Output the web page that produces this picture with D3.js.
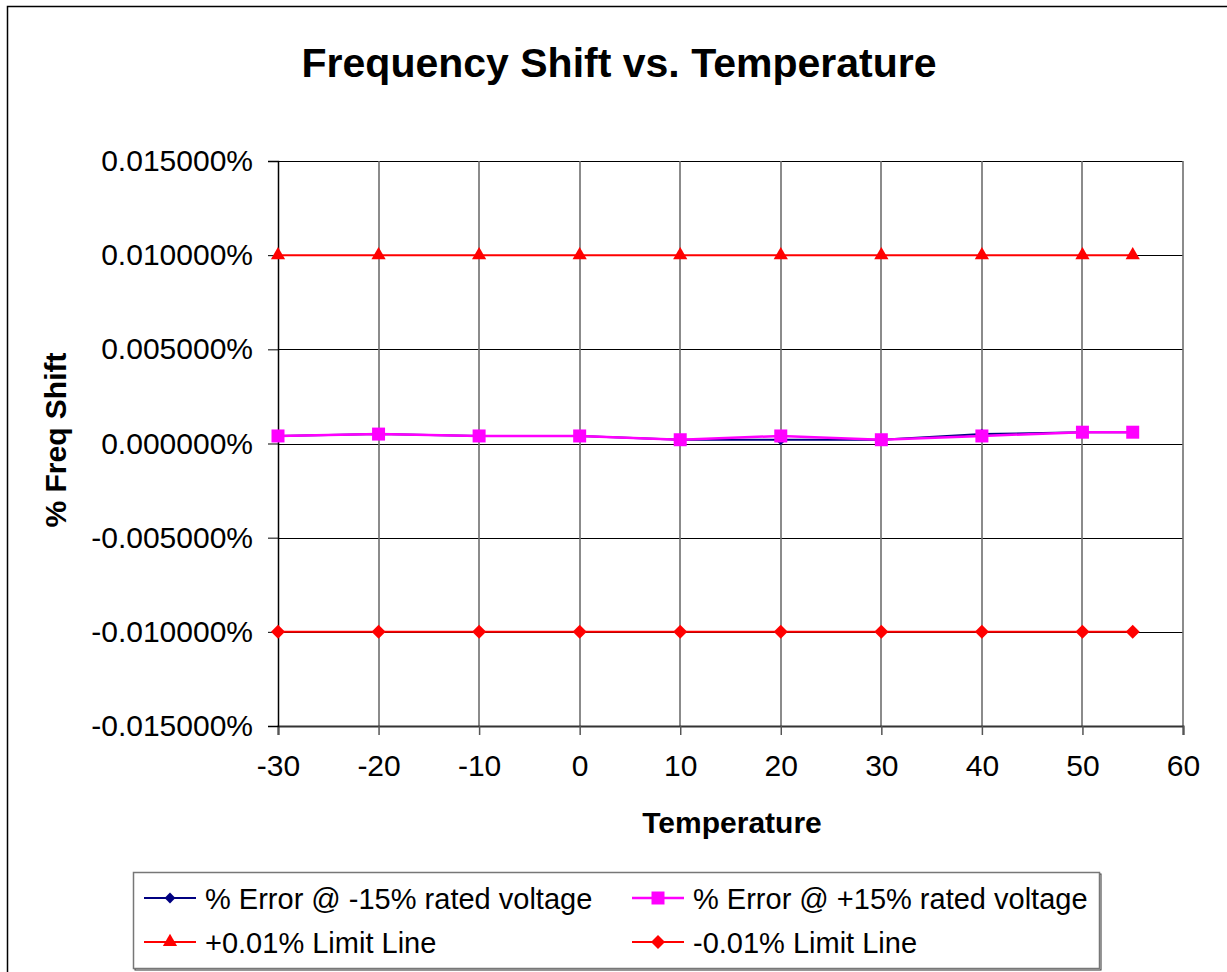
<!DOCTYPE html>
<html>
<head>
<meta charset="utf-8">
<script src="https://cdn.jsdelivr.net/npm/d3@7"></script>
<style>
  html, body { margin: 0; padding: 0; background: #fff; }
  svg { display: block; font-family: "Liberation Sans", Arial, sans-serif; }
</style>
</head>
<body>
<svg id="chart" width="1227" height="972"></svg>
<script>
// Temperature points (°C)
const temperatures = [-30, -20, -10, 0, 10, 20, 30, 40, 50, 55];
// Percent frequency error at -15% rated voltage
const errorMinus15 = [0.0004, 0.0005, 0.0004, 0.0004, 0.0002, 0.0002, 0.0002, 0.0005, 0.0006, 0.0006];
// Percent frequency error at +15% rated voltage
const errorPlus15 = [0.0004, 0.0005, 0.0004, 0.0004, 0.0002, 0.0004, 0.0002, 0.0004, 0.0006, 0.0006];
// Limit lines
const upperLimit = [0.01, 0.01, 0.01, 0.01, 0.01, 0.01, 0.01, 0.01, 0.01, 0.01];
const lowerLimit = [-0.01, -0.01, -0.01, -0.01, -0.01, -0.01, -0.01, -0.01, -0.01, -0.01];
// Axis ticks
const xTicks = [-30, -20, -10, 0, 10, 20, 30, 40, 50, 60];
const yTicks = [-0.015, -0.01, -0.005, 0, 0.005, 0.01, 0.015];

const seriesNames = [
  "% Error @ -15% rated voltage",
  "% Error @ +15% rated voltage",
  "+0.01% Limit Line",
  "-0.01% Limit Line"
];

const svg = d3.select("#chart");

// outer chart frame
svg.append("path")
  .attr("d", "M7.5,972 V6.5 H1227")
  .attr("fill", "none").attr("stroke", "#000").attr("stroke-width", 1.5);

const x = d3.scaleLinear().domain([-30, 60]).range([278, 1183]);
const y = d3.scaleLinear().domain([-0.015, 0.015]).range([726, 161]);

// title
svg.append("text")
  .attr("x", 619).attr("y", 77)
  .attr("text-anchor", "middle")
  .attr("font-size", 41).attr("font-weight", "bold")
  .text("Frequency Shift vs. Temperature");

// gridlines
const grid = svg.append("g");
grid.selectAll("line.h").data(yTicks).join("line")
  .attr("x1", x(-30)).attr("x2", x(60))
  .attr("y1", d => Math.round(y(d)) + 0.5).attr("y2", d => Math.round(y(d)) + 0.5)
  .attr("stroke", "#000").attr("stroke-width", 1);
grid.selectAll("line.v").data(xTicks.slice(1)).join("line")
  .attr("x1", d => Math.round(x(d))).attr("x2", d => Math.round(x(d)))
  .attr("y1", y(0.015)).attr("y2", y(-0.015))
  .attr("stroke", "#6e6e6e").attr("stroke-width", 1.6);

// axes
const xAxis = d3.axisBottom(x).tickValues(xTicks).tickSize(9).tickPadding(20)
  .tickFormat(d3.format("d"));
const gx = svg.append("g").attr("transform", `translate(0,${y(-0.015)})`).call(xAxis);
gx.select(".domain").attr("stroke", "#333").attr("stroke-width", 2);
gx.selectAll(".tick line").attr("stroke", "#555").attr("stroke-width", 1.5);
gx.selectAll(".tick text").attr("font-size", 30).attr("fill", "#000")
  .attr("font-family", "Liberation Sans, Arial, sans-serif")
  .text(d => d < 0 ? "-" + Math.abs(d) : d);

const pct = d => (d < 0 ? "-" : "") + Math.abs(d).toFixed(6) + "%";
const yAxis = d3.axisLeft(y).tickValues(yTicks).tickSize(10).tickPadding(15).tickFormat(pct);
const gy = svg.append("g").attr("transform", `translate(${x(-30)},0)`).call(yAxis);
gy.select(".domain").attr("stroke", "#000").attr("stroke-width", 1.5);
gy.selectAll(".tick line").attr("stroke", "#000").attr("stroke-width", 1);
gy.selectAll(".tick text").attr("font-size", 30).attr("fill", "#000")
  .attr("font-family", "Liberation Sans, Arial, sans-serif");

// axis titles
svg.append("text")
  .attr("x", 732).attr("y", 833)
  .attr("text-anchor", "middle")
  .attr("font-size", 30).attr("font-weight", "bold")
  .text("Temperature");
svg.append("text")
  .attr("transform", "translate(66,440) rotate(-90)")
  .attr("text-anchor", "middle")
  .attr("font-size", 30).attr("font-weight", "bold")
  .text("% Freq Shift");

// marker shapes
const markerPath = {
  diamondSmall: d3.symbol().type(d3.symbolDiamond2).size(75)(),
  square: d3.symbol().type(d3.symbolSquare2).size(215)(),
  triangle: d3.symbol().type(d3.symbolTriangle2).size(145)(),
  diamond: d3.symbol().type(d3.symbolDiamond2).size(125)()
};

const series = [
  { name: seriesNames[0], values: errorMinus15, color: "#000080", marker: "diamondSmall", width: 2 },
  { name: seriesNames[1], values: errorPlus15, color: "#ff00ff", marker: "square", width: 2.5 },
  { name: seriesNames[2], values: upperLimit, color: "#ff0000", marker: "triangle", width: 2 },
  { name: seriesNames[3], values: lowerLimit, color: "#ff0000", marker: "diamond", width: 2 }
];

const line = d3.line().x(d => x(d[0])).y(d => y(d[1]));

series.forEach(s => {
  const pts = temperatures.map((t, i) => [t, s.values[i]]);
  const g = svg.append("g");
  g.append("path").attr("d", line(pts))
    .attr("fill", "none").attr("stroke", s.color).attr("stroke-width", s.width);
  g.selectAll("path.m").data(pts).join("path")
    .attr("class", "m")
    .attr("d", markerPath[s.marker])
    .attr("transform", d => `translate(${x(d[0])},${y(d[1])})`)
    .attr("fill", s.color);
});

// legend
const legend = svg.append("g");
legend.append("rect")
  .attr("x", 135).attr("y", 874).attr("width", 966).attr("height", 96)
  .attr("fill", "none").attr("stroke", "#333").attr("stroke-width", 1);
legend.append("rect")
  .attr("x", 133.5).attr("y", 872.5).attr("width", 966).attr("height", 96)
  .attr("fill", "#fff").attr("stroke", "#777").attr("stroke-width", 1.5);

const legendPos = [[144, 898], [632, 898], [144, 942], [632, 942]];
series.forEach((s, i) => {
  const [lx, ly] = legendPos[i];
  const g = legend.append("g").attr("transform", `translate(${lx},${ly})`);
  g.append("line").attr("x1", 0).attr("x2", 52).attr("y1", 0).attr("y2", 0)
    .attr("stroke", s.color).attr("stroke-width", s.width);
  g.append("path").attr("d", markerPath[s.marker])
    .attr("transform", "translate(26,0)").attr("fill", s.color);
  g.append("text").attr("x", 61).attr("y", 11)
    .attr("font-size", 29).text(s.name);
});
</script>
</body>
</html>
